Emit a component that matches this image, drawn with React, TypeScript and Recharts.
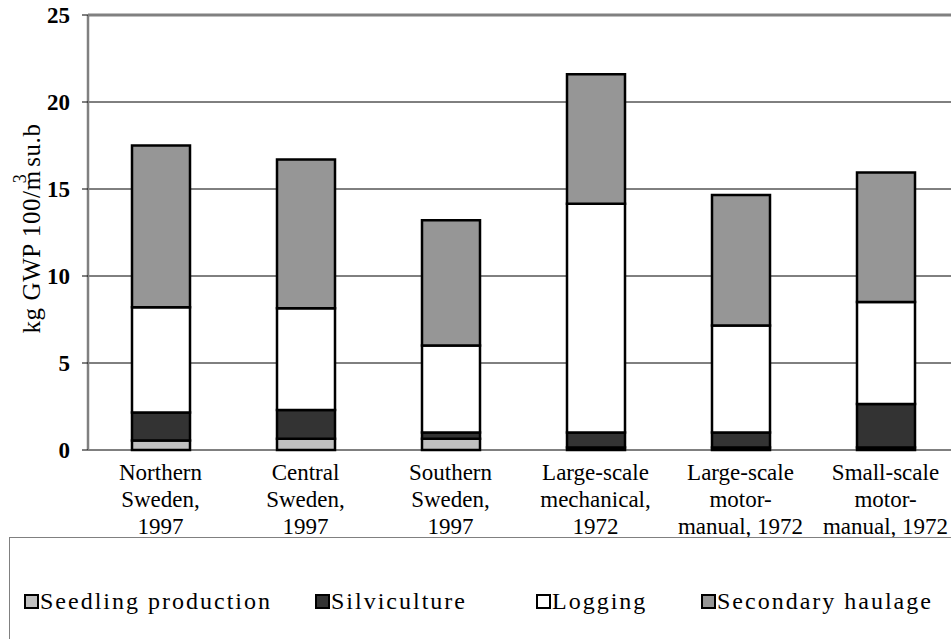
import React from 'react';
import {
  BarChart,
  Bar,
  CartesianGrid,
  XAxis,
  YAxis,
  ReferenceLine,
  Label,
} from 'recharts';

const categories = [
  'Northern\nSweden,\n1997',
  'Central\nSweden,\n1997',
  'Southern\nSweden,\n1997',
  'Large-scale\nmechanical,\n1972',
  'Large-scale\nmotor-\nmanual, 1972',
  'Small-scale\nmotor-\nmanual, 1972',
];

const seedling = [0.55, 0.65, 0.65, 0.15, 0.15, 0.15];
const silviculture = [1.6, 1.65, 0.35, 0.85, 0.85, 2.5];
const logging = [6.05, 5.85, 5.0, 13.15, 6.15, 5.85];
const haulage = [9.3, 8.55, 7.2, 7.45, 7.5, 7.45];

const yTicks = [0, 5, 10, 15, 20, 25];
const edgeTicks = [0, 1, 2, 3, 4, 5, 6];

const series = [
  { key: 'seedling', name: 'Seedling production', color: '#C0C0C0' },
  { key: 'silviculture', name: 'Silviculture', color: '#333333' },
  { key: 'logging', name: 'Logging', color: '#FFFFFF' },
  { key: 'haulage', name: 'Secondary haulage', color: '#969696' },
];

const data = categories.map((name, i) => ({
  name,
  seedling: seedling[i],
  silviculture: silviculture[i],
  logging: logging[i],
  haulage: haulage[i],
}));

const FONT = 'Liberation Serif, Tinos, DejaVu Serif, serif';
const legendLeft = [14, 305, 526, 691];

function CategoryTick(props: any) {
  const { x, y, payload } = props;
  const lines = String(payload.value).split('\n');
  return (
    <text
      x={x}
      y={y}
      textAnchor="middle"
      style={{ fontFamily: FONT, fontSize: 23 }}
      fill="#000"
    >
      {lines.map((l, i) => (
        <tspan key={i} x={x} dy={i === 0 ? 22 : 27}>
          {l}
        </tspan>
      ))}
    </text>
  );
}

function YTitle(props: any) {
  const { viewBox } = props;
  const cx = 31;
  const cy = viewBox.y + viewBox.height / 2 - 4;
  return (
    <text
      x={cx}
      y={cy}
      transform={`rotate(-90 ${cx} ${cy})`}
      textAnchor="middle"
      dominantBaseline="central"
      style={{ fontFamily: FONT, fontSize: 25, letterSpacing: 0.6 }}
      fill="#000"
    >
      kg GWP 100/m
      <tspan dy={-11} dx={-13} style={{ fontSize: 18 }}>3</tspan>
      <tspan dy={11}> su.b</tspan>
    </text>
  );
}

export default function App() {
  return (
    <div
      style={{
        position: 'fixed',
        left: 0,
        top: 0,
        width: 951,
        height: 639,
        overflow: 'hidden',
        background: '#FFFFFF',
      }}
    >
      <BarChart
        width={1000}
        height={639}
        data={data}
        barSize={58}
        margin={{ top: 15, right: 42, left: 0, bottom: 98 }}
      >
        <CartesianGrid stroke="#000" strokeWidth={1} vertical={false} />
        <XAxis
          xAxisId="edges"
          type="number"
          domain={[0, 6]}
          ticks={edgeTicks}
          height={1}
          tick={() => <g />}
          tickSize={6}
          tickLine={{ stroke: '#000', strokeWidth: 1 }}
          axisLine={{ stroke: '#808080', strokeWidth: 2.5 }}
        />
        <XAxis
          dataKey="name"
          height={90}
          axisLine={false}
          tickLine={false}
          interval={0}
          tick={<CategoryTick />}
        />
        <YAxis
          width={88}
          domain={[0, 25]}
          ticks={yTicks}
          tickSize={6}
          tickMargin={12}
          tickLine={{ stroke: '#000', strokeWidth: 1 }}
          axisLine={{ stroke: '#808080', strokeWidth: 2.5 }}
          tick={{ fill: '#000', fontSize: 23, fontWeight: 'bold', style: { fontFamily: FONT } }}
        >
          <Label content={<YTitle />} />
        </YAxis>
        <ReferenceLine y={25} stroke="#808080" strokeWidth={3} />
        {series.map((s) => (
          <Bar
            key={s.key}
            dataKey={s.key}
            name={s.name}
            stackId="a"
            fill={s.color}
            stroke="#000"
            strokeWidth={2.5}
            isAnimationActive={false}
          />
        ))}
      </BarChart>
      <div
        style={{
          position: 'absolute',
          left: 9,
          top: 537,
          width: 980,
          height: 140,
          border: '1px solid #808080',
          background: '#FFFFFF',
          fontFamily: FONT,
          fontSize: 24,
          letterSpacing: 2,
          color: '#000',
        }}
      >
        {series.map((s, i) => (
          <div
            key={s.key}
            style={{
              position: 'absolute',
              left: legendLeft[i],
              top: 49,
              display: 'flex',
              alignItems: 'center',
              whiteSpace: 'nowrap',
              lineHeight: '28px',
            }}
          >
            <span
              style={{
                display: 'inline-block',
                width: 11,
                height: 11,
                border: '2px solid #000',
                background: s.color,
                marginRight: 1,
              }}
            />
            {s.name}
          </div>
        ))}
      </div>
    </div>
  );
}
